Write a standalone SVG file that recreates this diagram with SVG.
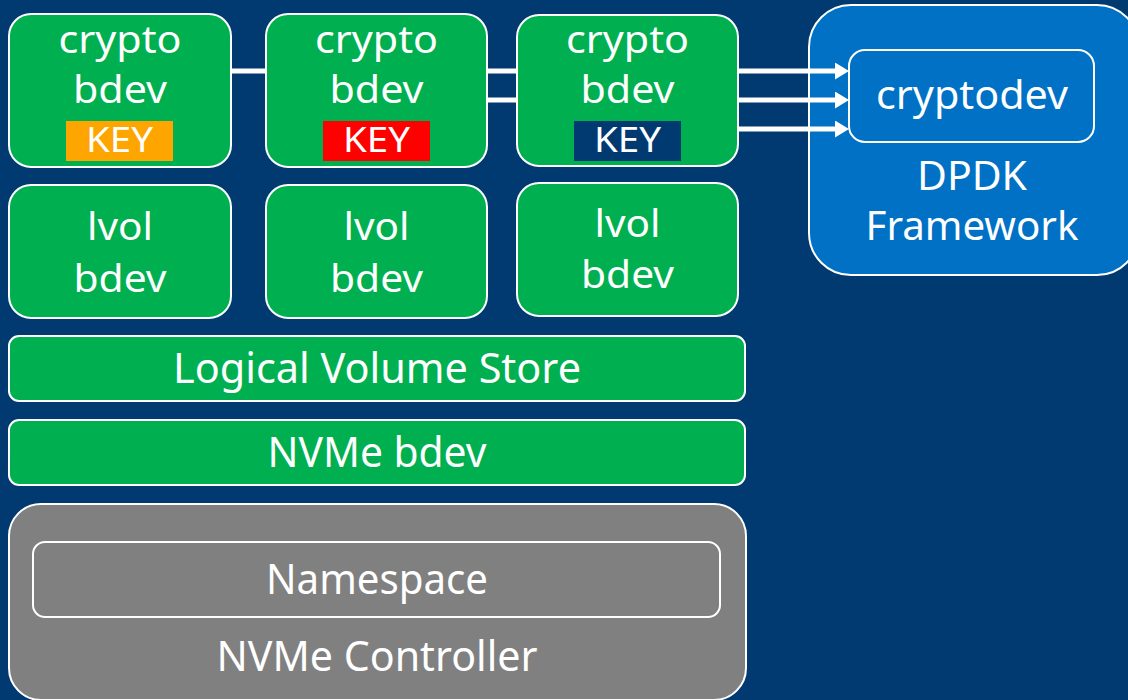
<svg xmlns="http://www.w3.org/2000/svg" width="1128" height="700" viewBox="0 0 1128 700">
<defs>
<style>
.bg{fill:#003a70}
.g{fill:#00b050;stroke:#ffffff;stroke-width:2}
.t{fill:#ffffff;font-family:"Noto Sans","Open Sans",sans-serif;text-anchor:middle}
.f39{font-size:39px}
.f40{font-size:40px}
.f41{font-size:41px}
.f34{font-size:34px}
.c{fill:none;stroke:#ffffff;stroke-width:5}
</style>
<marker id="ah" markerUnits="userSpaceOnUse" markerWidth="15" markerHeight="18" refX="1" refY="8.5" orient="auto" viewBox="0 0 15 18">
<path d="M0,0 L14,8.5 L0,17 z" fill="#ffffff"/>
</marker>
</defs>
<rect class="bg" x="0" y="0" width="1128" height="700"/>

<g id="dpdk">
<rect x="809" y="5" width="330" height="270" rx="42" fill="#0071c5" stroke="#ffffff" stroke-width="2"/>
<text class="t f40" x="972" y="190" textLength="110" lengthAdjust="spacingAndGlyphs">DPDK</text>
<text class="t f40" x="972" y="240" textLength="213" lengthAdjust="spacingAndGlyphs">Framework</text>
</g>
<g id="cryptodev">
<rect x="849" y="50" width="245" height="92" rx="16" fill="#0071c5" stroke="#ffffff" stroke-width="2"/>
<text class="t f40" x="972" y="109" textLength="192" lengthAdjust="spacingAndGlyphs">cryptodev</text>
</g>

<g id="connectors">
<path class="c" d="M231,71 H266 M487,71 H517 M738,71 H836" marker-end="url(#ah)"/>
<path class="c" d="M487,100 H517 M738,100 H836" marker-end="url(#ah)"/>
<path class="c" d="M738,129 H836" marker-end="url(#ah)"/>
</g>

<g id="crypto1">
<rect class="g" x="9" y="14" width="222" height="153" rx="22"/>
<text class="t f39" x="120" y="53" textLength="123" lengthAdjust="spacingAndGlyphs">crypto</text>
<text class="t f39" x="120" y="103" textLength="94" lengthAdjust="spacingAndGlyphs">bdev</text>
<rect x="66" y="121" width="107" height="40" fill="#ffa500"/>
<text class="t f34" x="119.5" y="152" textLength="67" lengthAdjust="spacingAndGlyphs">KEY</text>
</g>
<g id="crypto2">
<rect class="g" x="266" y="14" width="221" height="153" rx="22"/>
<text class="t f39" x="376.5" y="53" textLength="123" lengthAdjust="spacingAndGlyphs">crypto</text>
<text class="t f39" x="376.5" y="103" textLength="94" lengthAdjust="spacingAndGlyphs">bdev</text>
<rect x="323" y="121" width="107" height="40" fill="#ff0000"/>
<text class="t f34" x="376.5" y="152" textLength="67" lengthAdjust="spacingAndGlyphs">KEY</text>
</g>
<g id="crypto3">
<rect class="g" x="517" y="15" width="221" height="151" rx="22"/>
<text class="t f39" x="627.5" y="53" textLength="123" lengthAdjust="spacingAndGlyphs">crypto</text>
<text class="t f39" x="627.5" y="103" textLength="94" lengthAdjust="spacingAndGlyphs">bdev</text>
<rect x="574" y="121" width="107" height="40" fill="#003a70"/>
<text class="t f34" x="627.5" y="152" textLength="67" lengthAdjust="spacingAndGlyphs">KEY</text>
</g>

<g id="lvol1">
<rect class="g" x="9" y="185" width="222" height="133" rx="22"/>
<text class="t f39" x="120" y="240" textLength="66" lengthAdjust="spacingAndGlyphs">lvol</text>
<text class="t f39" x="120" y="292" textLength="93" lengthAdjust="spacingAndGlyphs">bdev</text>
</g>
<g id="lvol2">
<rect class="g" x="266" y="185" width="221" height="133" rx="22"/>
<text class="t f39" x="376.5" y="240" textLength="66" lengthAdjust="spacingAndGlyphs">lvol</text>
<text class="t f39" x="376.5" y="292" textLength="93" lengthAdjust="spacingAndGlyphs">bdev</text>
</g>
<g id="lvol3">
<rect class="g" x="517" y="183" width="221" height="133" rx="22"/>
<text class="t f39" x="627.5" y="237" textLength="66" lengthAdjust="spacingAndGlyphs">lvol</text>
<text class="t f39" x="627.5" y="288" textLength="93" lengthAdjust="spacingAndGlyphs">bdev</text>
</g>

<g id="lvs">
<rect class="g" x="9" y="336" width="736" height="65" rx="10"/>
<text class="t f41" x="377" y="383" textLength="408" lengthAdjust="spacingAndGlyphs">Logical Volume Store</text>
</g>
<g id="nvmebdev">
<rect class="g" x="9" y="420" width="736" height="65" rx="10"/>
<text class="t f41" x="377" y="467" textLength="219" lengthAdjust="spacingAndGlyphs">NVMe bdev</text>
</g>

<g id="controller">
<rect x="9" y="504" width="737" height="196" rx="32" fill="#808080" stroke="#ffffff" stroke-width="2"/>
<text class="t f41" x="377" y="671" textLength="321" lengthAdjust="spacingAndGlyphs">NVMe Controller</text>
</g>
<g id="namespace">
<rect x="33" y="542" width="687" height="75" rx="12" fill="#808080" stroke="#ffffff" stroke-width="2"/>
<text class="t f41" x="377" y="594" textLength="222" lengthAdjust="spacingAndGlyphs">Namespace</text>
</g>
</svg>
